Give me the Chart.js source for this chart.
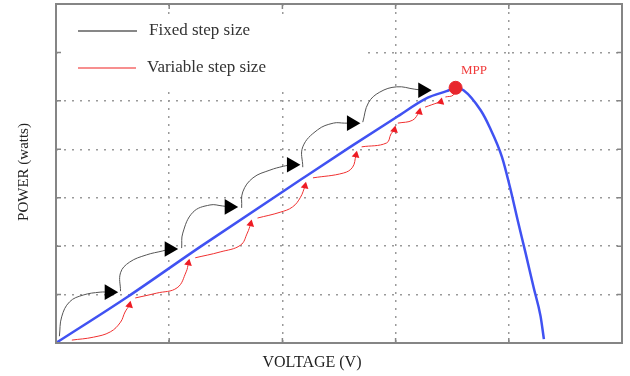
<!DOCTYPE html>
<html>
<head>
<meta charset="utf-8">
<script src="https://cdn.jsdelivr.net/npm/chart.js@4"></script>
<style>
  html, body { margin: 0; padding: 0; background: #fff; }
  #wrap { width: 630px; height: 376px; }
</style>
</head>
<body>
<div id="wrap"><canvas id="myChart" width="630" height="376"></canvas></div>
<script>
// P-V curve (voltage, power in grid units)
const pvVoltage = [0.00, 0.63, 1.27, 2.16, 2.60, 3.00, 3.28, 3.45, 3.53, 3.60, 3.75, 3.83, 3.94, 4.01, 4.08, 4.15, 4.22, 4.28, 4.31];
const pvPower   = [0.00, 0.95, 1.98, 3.37, 4.05, 4.65, 5.06, 5.20, 5.27, 5.22, 4.81, 4.46, 3.84, 3.22, 2.52, 1.84, 1.14, 0.56, 0.08];

const mpp = [3.53, 5.27];

// fixed step arcs (last point = arrow head)
const fixedSteps = [
  [[0.03, 0.14], [0.05, 0.54], [0.12, 0.85], [0.24, 0.99], [0.39, 1.05], [0.47, 1.05]],
  [[0.57, 1.07], [0.57, 1.45], [0.65, 1.67], [0.80, 1.82], [0.94, 1.90], [1.00, 1.94]],
  [[1.11, 1.96], [1.12, 2.27], [1.21, 2.70], [1.36, 2.85], [1.47, 2.83], [1.53, 2.81]],
  [[1.64, 2.79], [1.65, 3.12], [1.74, 3.41], [1.89, 3.57], [2.01, 3.65], [2.08, 3.68]],
  [[2.18, 3.63], [2.18, 4.05], [2.31, 4.40], [2.45, 4.54], [2.55, 4.54], [2.61, 4.54]],
  [[2.71, 4.56], [2.76, 4.96], [2.86, 5.18], [3.01, 5.29], [3.17, 5.24], [3.24, 5.22]]
];

// variable step arcs (last point = arrow head, except the one ending on MPP)
const variableSteps = [
  [[0.14, 0.06], [0.33, 0.12], [0.48, 0.23], [0.57, 0.43], [0.61, 0.64], [0.65, 0.78]],
  [[0.70, 0.93], [0.89, 1.03], [1.07, 1.14], [1.15, 1.47], [1.17, 1.65]],
  [[1.23, 1.76], [1.45, 1.88], [1.63, 2.02], [1.69, 2.27], [1.72, 2.46]],
  [[1.78, 2.58], [1.98, 2.70], [2.09, 2.81], [2.16, 3.01], [2.20, 3.24]],
  [[2.27, 3.41], [2.54, 3.51], [2.62, 3.63], [2.65, 3.88]],
  [[2.70, 4.05], [2.92, 4.13], [2.96, 4.32], [2.99, 4.40]],
  [[3.02, 4.54], [3.15, 4.60], [3.21, 4.77]],
  [[3.26, 4.87], [3.37, 4.96], [3.40, 4.98]],
  [[3.44, 5.08], [3.51, 5.12], [3.53, 5.27]]
];

const toPts = arr => arr.map(p => ({ x: p[0], y: p[1] }));
const headRadius = (n, r) => Array.from({ length: n }, (_, i) => i === n - 1 ? r : 0);

const datasets = [];

datasets.push({
  data: pvVoltage.map((v, i) => ({ x: v, y: pvPower[i] })),
  borderColor: '#4052f2',
  borderWidth: 2.5,
  pointRadius: 0,
  cubicInterpolationMode: 'monotone',
  order: 2
});

fixedSteps.forEach(arc => {
  datasets.push({
    data: toPts(arc),
    borderColor: '#555',
    borderWidth: 1,
    tension: 0.4,
    pointStyle: 'triangle',
    pointRotation: 90,
    pointRadius: headRadius(arc.length, 9),
    pointBackgroundColor: '#000',
    pointBorderColor: '#000',
    pointBorderWidth: 0,
    order: 1
  });
});

variableSteps.forEach((arc, k) => {
  const last = k === variableSteps.length - 1;
  datasets.push({
    data: toPts(arc),
    borderColor: '#f03030',
    borderWidth: 1,
    tension: 0.4,
    pointStyle: 'triangle',
    pointRotation: 12,
    pointRadius: last ? 0 : headRadius(arc.length, 4.5),
    pointBackgroundColor: '#ee1c24',
    pointBorderColor: '#ee1c24',
    pointBorderWidth: 0,
    order: 1
  });
});

datasets.push({
  data: [{ x: mpp[0], y: mpp[1] }],
  pointRadius: 6.5,
  pointBackgroundColor: '#e8262d',
  pointBorderColor: '#e8262d',
  showLine: false,
  order: 0
});

const decorations = {
  id: 'decorations',
  beforeDatasetsDraw(chart) {
    const c = chart.ctx;
    // legend background hides the grid behind it
    c.save();
    c.fillStyle = '#fff';
    c.fillRect(58, 17, 308, 71);
    c.restore();
  },
  afterDraw(chart) {
    const c = chart.ctx;
    const { left, right, top, bottom } = chart.chartArea;
    const xs = chart.scales.x, ys = chart.scales.y;
    c.save();
    // frame
    c.strokeStyle = '#858585';
    c.lineWidth = 2;
    c.strokeRect(left, top, right - left, bottom - top);
    // inward ticks
    c.lineWidth = 1.5;
    c.beginPath();
    for (let v = 1; v < 7; v++) {
      const y = ys.getPixelForValue(v);
      c.moveTo(left, y); c.lineTo(left + 5, y);
      c.moveTo(right, y); c.lineTo(right - 5, y);
    }
    for (let v = 1; v < 5; v++) {
      const x = xs.getPixelForValue(v);
      c.moveTo(x, bottom); c.lineTo(x, bottom - 5);
      c.moveTo(x, top); c.lineTo(x, top + 5);
    }
    c.stroke();

    // legend
    c.lineWidth = 1.2;
    c.strokeStyle = '#111';
    c.beginPath(); c.moveTo(78, 31); c.lineTo(137, 31); c.stroke();
    c.strokeStyle = '#f02020';
    c.beginPath(); c.moveTo(78, 68); c.lineTo(136, 68); c.stroke();
    c.fillStyle = '#333';
    c.font = '17px "Liberation Serif"';
    c.textBaseline = 'middle';
    c.textAlign = 'left';
    c.fillText('Fixed step size', 149, 31);
    c.fillText('Variable step size', 147, 68);

    // MPP label
    c.fillStyle = '#f03a3a';
    c.font = '13px "Liberation Serif"';
    c.fillText('MPP', 461, 71);

    // axis titles
    c.fillStyle = '#222';
    c.font = '16px "Liberation Serif"';
    c.textAlign = 'center';
    c.fillText('VOLTAGE (V)', 312, 363);
    c.translate(24, 172);
    c.rotate(-Math.PI / 2);
    c.font = '15px "Liberation Serif"';
    c.fillText('POWER (watts)', 0, 0);
    c.restore();
  }
};

const ctx = document.getElementById('myChart').getContext('2d');
const myChart = new Chart(ctx, {
  type: 'line',
  data: { datasets: datasets },
  options: {
    responsive: false,
    animation: false,
    layout: { autoPadding: false, padding: { left: 56, top: 4, right: 8, bottom: 33 } },
    scales: {
      x: {
        type: 'linear',
        min: 0, max: 5,
        ticks: { display: false, stepSize: 1 },
        grid: { color: '#9a9a9a', lineWidth: 1.5, drawTicks: false },
        border: { display: false, dash: [2, 6] }
      },
      y: {
        type: 'linear',
        min: 0, max: 7,
        ticks: { display: false, stepSize: 1 },
        grid: { color: '#9a9a9a', lineWidth: 1.5, drawTicks: false },
        border: { display: false, dash: [2, 6] }
      }
    },
    plugins: {
      legend: false,
      tooltip: { enabled: false }
    }
  },
  plugins: [decorations]
});
</script>
</body>
</html>
